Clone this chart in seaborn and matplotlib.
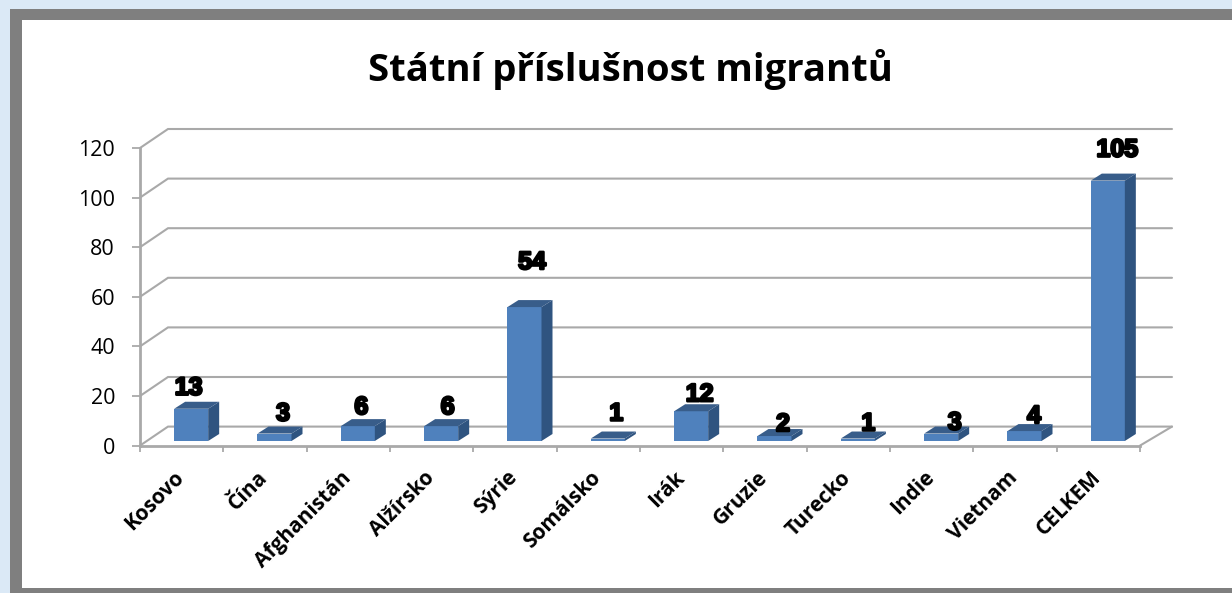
import matplotlib
matplotlib.use("Agg")
import matplotlib.pyplot as plt
import matplotlib.patheffects as pe
from matplotlib.patches import Polygon, Rectangle
from matplotlib.transforms import ScaledTranslation
import pandas as pd
import seaborn as sns

# data
zeme = ["Kosovo", "Čína", "Afghanistán", "Alžírsko", "Sýrie", "Somálsko",
        "Irák", "Gruzie", "Turecko", "Indie", "Vietnam", "CELKEM"]
pocty = [13, 3, 6, 6, 54, 1, 12, 2, 1, 3, 4, 105]
y_ticks = [0, 20, 40, 60, 80, 100, 120]
titulek = "Státní příslušnost migrantů"

# label nudges in px, (x, y) from the middle of the bar top
posun_popisku = [(-8, 21), (3, 20), (-2, 19), (1, 19), (2, 45), (3, 25),
                 (3, 17), (3, 12), (5, 15), (8, 11), (4, 15), (4, 31)]

W, H = 1232, 593
DPI = 100
MODRA = "#4f81bd"
BOK = "#2f5480"
VRCH = "#385d8a"
SEDA = "#a9a9a9"

sns.set_theme(style="white")
plt.rcParams["font.family"] = ["Open Sans", "DejaVu Sans"]

df = pd.DataFrame({"zeme": zeme, "pocet": pocty})

fig = plt.figure(figsize=(W / DPI, H / DPI), dpi=DPI, facecolor="#dbe9f6")


def obdelnik(x0, y0, x1, y1, barva):
    # rectangle given in image pixels, y going down
    fig.add_artist(Rectangle((x0 / W, 1 - y1 / H), (x1 - x0) / W, (y1 - y0) / H,
                             transform=fig.transFigure, color=barva, lw=0, zorder=-2))


obdelnik(10, 9, W, H, "#7f7f7f")
obdelnik(22, 20, W, 588, "white")

X0, X1 = 140, 1140
Y0, Y120 = 445.6, 148
ax = fig.add_axes([X0 / W, 1 - Y0 / H, (X1 - X0) / W, (Y0 - Y120) / H])
ax.patch.set_alpha(0)

sns.barplot(data=df, x="zeme", y="pocet", color=MODRA, saturation=1,
            width=34 / 83.33, ax=ax, zorder=3)
ax.set_xlim(-0.5, 11.5)
ax.set_ylim(0, 120)
ax.set_xlabel("")
ax.set_ylabel("")

px_x = 12 / (X1 - X0)   # data units per px
px_y = 120 / (Y0 - Y120)

# back wall grid and floor
zada_x = 28 * px_x
zada_y = 19 * px_y
konec_x = 11.5 + 32 * px_x
for t in y_ticks:
    ax.plot([-0.5, -0.5 + zada_x, konec_x], [t, t + zada_y, t + zada_y],
            color=SEDA, lw=1.5, clip_on=False, zorder=1, solid_joinstyle="miter")
ax.plot([11.5, konec_x], [0, zada_y], color=SEDA, lw=1.5, clip_on=False, zorder=1)

# bars stand a little inside the floor, side and top faces added from their size
hloubka_x = 11 * px_x
hloubka_y = 7 * px_y
posun_x = 9.5 * px_x
posun_y = 4.6 * px_y
for bar, n, (nx, ny) in zip(list(ax.patches), pocty, posun_popisku):
    bar.set_x(bar.get_x() + posun_x)
    bar.set_y(posun_y)
    bar.set_linewidth(0)
    bar.set_clip_on(False)
    x_l = bar.get_x()
    x_r = x_l + bar.get_width()
    y_d = posun_y
    y_t = posun_y + n
    bok = [(x_r, y_d), (x_r + hloubka_x, y_d + hloubka_y),
           (x_r + hloubka_x, y_t + hloubka_y), (x_r, y_t)]
    vrch = [(x_l, y_t), (x_l + hloubka_x, y_t + hloubka_y),
            (x_r + hloubka_x, y_t + hloubka_y), (x_r, y_t)]
    ax.add_patch(Polygon(bok, closed=True, color=BOK, lw=0, zorder=3, clip_on=False))
    ax.add_patch(Polygon(vrch, closed=True, color=VRCH, lw=0, zorder=3, clip_on=False))
    ax.annotate(str(n), xy=((x_l + x_r) / 2 + hloubka_x / 2, y_t), xytext=(nx * 0.72, ny * 0.72),
                textcoords="offset points", ha="center", va="center", fontsize=18,
                fontweight="bold", family="Liberation Sans", color="black", zorder=5,
                annotation_clip=False,
                path_effects=[pe.withStroke(linewidth=1.8, foreground="black")])

for s in ["top", "right"]:
    ax.spines[s].set_visible(False)
for s in ["left", "bottom"]:
    ax.spines[s].set_color(SEDA)
    ax.spines[s].set_linewidth(2)
    ax.spines[s].set_zorder(2)

ax.set_yticks(y_ticks)
ax.tick_params(axis="y", left=True, length=6, width=1.3, color=SEDA, labelsize=15.5,
               labelcolor="black", pad=12)
ax.set_xticks(range(12))
ax.set_xticks([i - 0.5 for i in range(13)], minor=True)
ax.tick_params(axis="x", which="minor", bottom=True, length=4, width=1.3, color=SEDA)
ax.tick_params(axis="x", which="major", bottom=False, pad=9.5)
ax.set_xticklabels(zeme, rotation=45, ha="right", rotation_mode="anchor",
                   fontsize=15, fontweight="bold", color="black")
posun_textu = ScaledTranslation(-8 / DPI, 0, fig.dpi_scale_trans)
for lab in ax.get_xticklabels():
    lab.set_transform(lab.get_transform() + posun_textu)

fig.text(630 / W, 1 - 69 / H, titulek, ha="center", va="center", fontsize=27.5,
         fontweight="bold", color="black")

fig.savefig("out.png", dpi=DPI, facecolor=fig.get_facecolor())
